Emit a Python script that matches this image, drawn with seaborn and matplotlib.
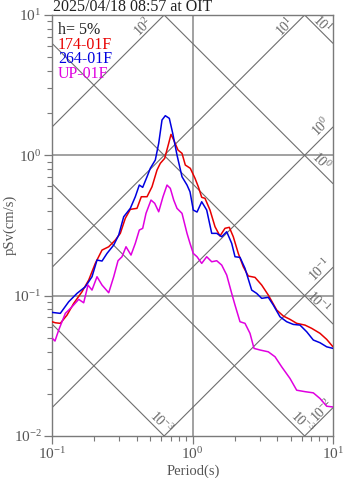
import numpy as np
import pandas as pd
import matplotlib
matplotlib.use("Agg")
import matplotlib.pyplot as plt
import seaborn as sns

# ---------------- data ----------------
title_text = "2025/04/18 08:57 at OIT"
damping_text = "h= 5%"
series_names = ["174-01F", "264-01F", "UP-01F"]
series_colors = ["#e80000", "#0000e0", "#e000e0"]

period_174 = [0.1000, 0.1056, 0.1146, 0.1279, 0.1427, 0.1635, 0.1825, 0.2033, 0.2270, 0.2533,
              0.2822, 0.3063, 0.3324, 0.3609, 0.4027, 0.4321, 0.4746, 0.5150, 0.5590, 0.5899,
              0.6340, 0.6770, 0.7031, 0.7350, 0.7885, 0.8420, 0.8887, 0.9645, 1.042, 1.100,
              1.163, 1.227, 1.332, 1.446, 1.569, 1.703, 1.828, 1.951, 2.118, 2.299,
              2.496, 2.785, 3.108, 3.463, 3.975, 4.429, 4.943, 5.515, 6.319, 7.052,
              8.082, 9.019, 10.0]
psv_174 = [0.0652, 0.0641, 0.0635, 0.0727, 0.0881, 0.1066, 0.1292, 0.1699, 0.2113, 0.2231,
           0.2490, 0.2780, 0.3556, 0.4122, 0.4190, 0.5070, 0.5070, 0.5973, 0.7857, 0.877,
           0.952, 1.218, 1.411, 1.286, 1.091, 1.033, 0.853, 0.808, 0.686, 0.597,
           0.502, 0.494, 0.4075, 0.310, 0.266, 0.302, 0.307, 0.263, 0.200, 0.1607,
           0.138, 0.135, 0.119, 0.1010, 0.0790, 0.0716, 0.0678, 0.0635, 0.0617, 0.0585,
           0.0539, 0.0488, 0.0432]

period_264 = [0.1000, 0.1146, 0.1315, 0.1506, 0.1726, 0.1926, 0.2091, 0.2270, 0.2464, 0.2749,
              0.2983, 0.3238, 0.3609, 0.3916, 0.4182, 0.4421, 0.4746, 0.5008, 0.5436, 0.5747,
              0.6066, 0.6403, 0.6838, 0.7232, 0.7757, 0.8420, 0.9139, 0.9598, 1.013, 1.077,
              1.163, 1.262, 1.370, 1.487, 1.614, 1.752, 1.901, 2.007, 2.178, 2.364,
              2.638, 2.863, 3.108, 3.463, 3.759, 4.196, 4.683, 5.217, 5.823, 6.498,
              7.241, 8.082, 9.019, 10.0]
psv_264 = [0.0760, 0.0748, 0.0905, 0.1038, 0.1157, 0.1364, 0.1794, 0.1765, 0.2001, 0.2294,
           0.2703, 0.3650, 0.4190, 0.5070, 0.6142, 0.5914, 0.7037, 0.8079, 0.9258, 1.218,
           1.785, 1.916, 1.835, 1.435, 1.005, 0.7037, 0.6142, 0.5502, 0.4075, 0.3943,
           0.4669, 0.4075, 0.2780, 0.2780, 0.2630, 0.2854, 0.2359, 0.1894, 0.1875, 0.1565,
           0.1096, 0.1038, 0.0957, 0.0973, 0.0857, 0.0707, 0.0652, 0.0624, 0.0617, 0.0553,
           0.0483, 0.0462, 0.0432, 0.0421]

period_up = [0.1000, 0.1050, 0.1116, 0.1244, 0.1388, 0.1549, 0.1681, 0.1804, 0.1926, 0.2091,
             0.2270, 0.2533, 0.2749, 0.2950, 0.3149, 0.3363, 0.3650, 0.3916, 0.4182, 0.4421,
             0.4667, 0.5066, 0.5383, 0.5747, 0.6166, 0.6585, 0.6950, 0.7350, 0.7757, 0.8420,
             0.9139, 0.9598, 1.013, 1.077, 1.163, 1.262, 1.370, 1.487, 1.614, 1.752,
             1.901, 2.007, 2.178, 2.364, 2.566, 2.740, 3.023, 3.463, 3.866, 4.314,
             4.943, 5.515, 6.319, 7.241, 8.082, 9.019, 10.0]
psv_up = [0.0499, 0.0475, 0.0569, 0.0748, 0.0833, 0.0941, 0.0890, 0.119, 0.1096, 0.1364,
          0.119, 0.1049, 0.1364, 0.1774, 0.1894, 0.2231, 0.1947, 0.2359, 0.2935, 0.3017,
          0.386, 0.480, 0.455, 0.396, 0.507, 0.614, 0.582, 0.480, 0.419, 0.386,
          0.278, 0.236, 0.200, 0.1894, 0.1699, 0.1894, 0.1744, 0.1774, 0.1652, 0.1402,
          0.1038, 0.0857, 0.0652, 0.0635, 0.0539, 0.0421, 0.0410, 0.0398, 0.0367, 0.0311,
          0.0257, 0.0212, 0.0207, 0.0203, 0.0185, 0.0163, 0.0161]

# tripartite guide lines: acceleration (gal) and displacement (cm)
accel_levels = [1e2, 1e1, 1e0, 1e-1, 1e-2]
disp_levels = [1e1, 1e0, 1e-1, 1e-2, 1e-3]

# ---------------- style ----------------
sns.set_theme(style="ticks")
plt.rcParams["font.family"] = ["Liberation Serif", "DejaVu Serif"]
plt.rcParams["mathtext.fontset"] = "custom"
plt.rcParams["mathtext.rm"] = "Liberation Serif"
plt.rcParams["mathtext.it"] = "Liberation Serif:italic"
plt.rcParams["mathtext.bf"] = "Liberation Serif:bold"

GRAY = "#7a7a7a"
TXT = "#555555"

fig = plt.figure(figsize=(3.47, 4.78), dpi=100)
W, H = 347, 478
L, R, T_, B = 52, 333, 15, 436
ax = fig.add_axes([L / W, 1 - B / H, (R - L) / W, (B - T_) / H])
ax.set_xscale("log")
ax.set_yscale("log")
ax.set_xlim(0.1, 10)
ax.set_ylim(0.01, 10)

# decade grid
ax.axvline(1.0, color="#9a9a9a", lw=1.3, zorder=1)
for yv in (1.0, 0.1):
    ax.axhline(yv, color="#9a9a9a", lw=1.3, zorder=1)

# diagonal lines
tt = np.array([0.1, 10.0])
two_pi = 2 * np.pi
for a in accel_levels:
    ax.plot(tt, a * tt / two_pi, color="#6e6e6e", lw=0.8, zorder=1)
for d in disp_levels:
    ax.plot(tt, two_pi * d / tt, color="#6e6e6e", lw=0.8, zorder=1)

# ---------------- spectra ----------------
frames = []
for name, per, sv in zip(series_names, [period_174, period_264, period_up],
                         [psv_174, psv_264, psv_up]):
    frames.append(pd.DataFrame({"period": per, "psv": sv, "comp": name}))
df = pd.concat(frames, ignore_index=True)
sns.lineplot(data=df, x="period", y="psv", hue="comp", hue_order=series_names,
             palette=dict(zip(series_names, series_colors)), estimator=None,
             sort=False, legend=False, lw=1.1, ax=ax, zorder=3)

def pix_to_T(x):
    return 10 ** ((x - L) / (R - L) * 2 - 1)

# diagonal labels: (text, kind, level, x pixel of label, vertical offset px, rotation)
diag_labels = [
    (r"$10^{2}$", "a", 1e2, 143, 9, 45),
    (r"$10^{1}$", "a", 1e1, 285, 8, 45),
    (r"$10^{1}$", "d", 1e1, 322, 8.5, -45),
    (r"$10^{0}$", "a", 1e0, 321, 12, 45),
    (r"$10^{0}$", "d", 1e0, 321, 10.5, -45),
    (r"$10^{-1}$", "a", 1e-1, 320, 10, 45),
    (r"$10^{-1}$", "d", 1e-1, 318, 7, -45),
    (r"$10^{-2}$", "a", 1e-2, 322, 8, 45),
    (r"$10^{-3}$", "d", 1e-2, 302, 11, -45),
    (r"$10^{-3}$", "d", 1e-3, 161, 10.5, -45),
]
for txt, kind, lev, xp, off, rot in diag_labels:
    tp = pix_to_T(xp)
    svp = lev * tp / two_pi if kind == "a" else two_pi * lev / tp
    ax.annotate(txt, xy=(tp, svp), xytext=(0, off * 0.72), textcoords="offset points",
                rotation=rot, ha="center", va="center", rotation_mode="anchor",
                fontsize=10, color="#666666", zorder=2)

# ---------------- axes cosmetics ----------------
for s in ax.spines.values():
    s.set_color(GRAY)
    s.set_linewidth(1.0)
ax.tick_params(axis="both", which="major", direction="out", length=6, width=0.9,
               color=GRAY, labelcolor=TXT, labelsize=11, pad=1.5,
               top=False, right=False, bottom=True, left=True)
ax.tick_params(axis="both", which="minor", direction="out", length=3.5, width=0.8,
               color=GRAY, top=False, right=False, bottom=True, left=True)
ax.set_xlabel("")
ax.set_ylabel("")

fig.text(10 / W, 1 - 225 / H, "pSv(cm/s)", rotation=90, ha="center", va="center",
         fontsize=10.5, color=TXT)
fig.text(193 / W, 1 - 471 / H, "Period(s)", ha="center", va="center",
         fontsize=10.5, color=TXT)
fig.text(53 / W, 1 - 11 / H, title_text, ha="left", va="baseline", fontsize=11.5,
         color="#222222")

legend_texts = [damping_text] + series_names
legend_colors = ["#222222"] + series_colors
for i, (t, c) in enumerate(zip(legend_texts, legend_colors)):
    fig.text(58 / W, 1 - (34 + 14.7 * i) / H, t, ha="left", va="baseline",
             fontsize=11.5, color=c)

fig.savefig("out.png", dpi=100)
